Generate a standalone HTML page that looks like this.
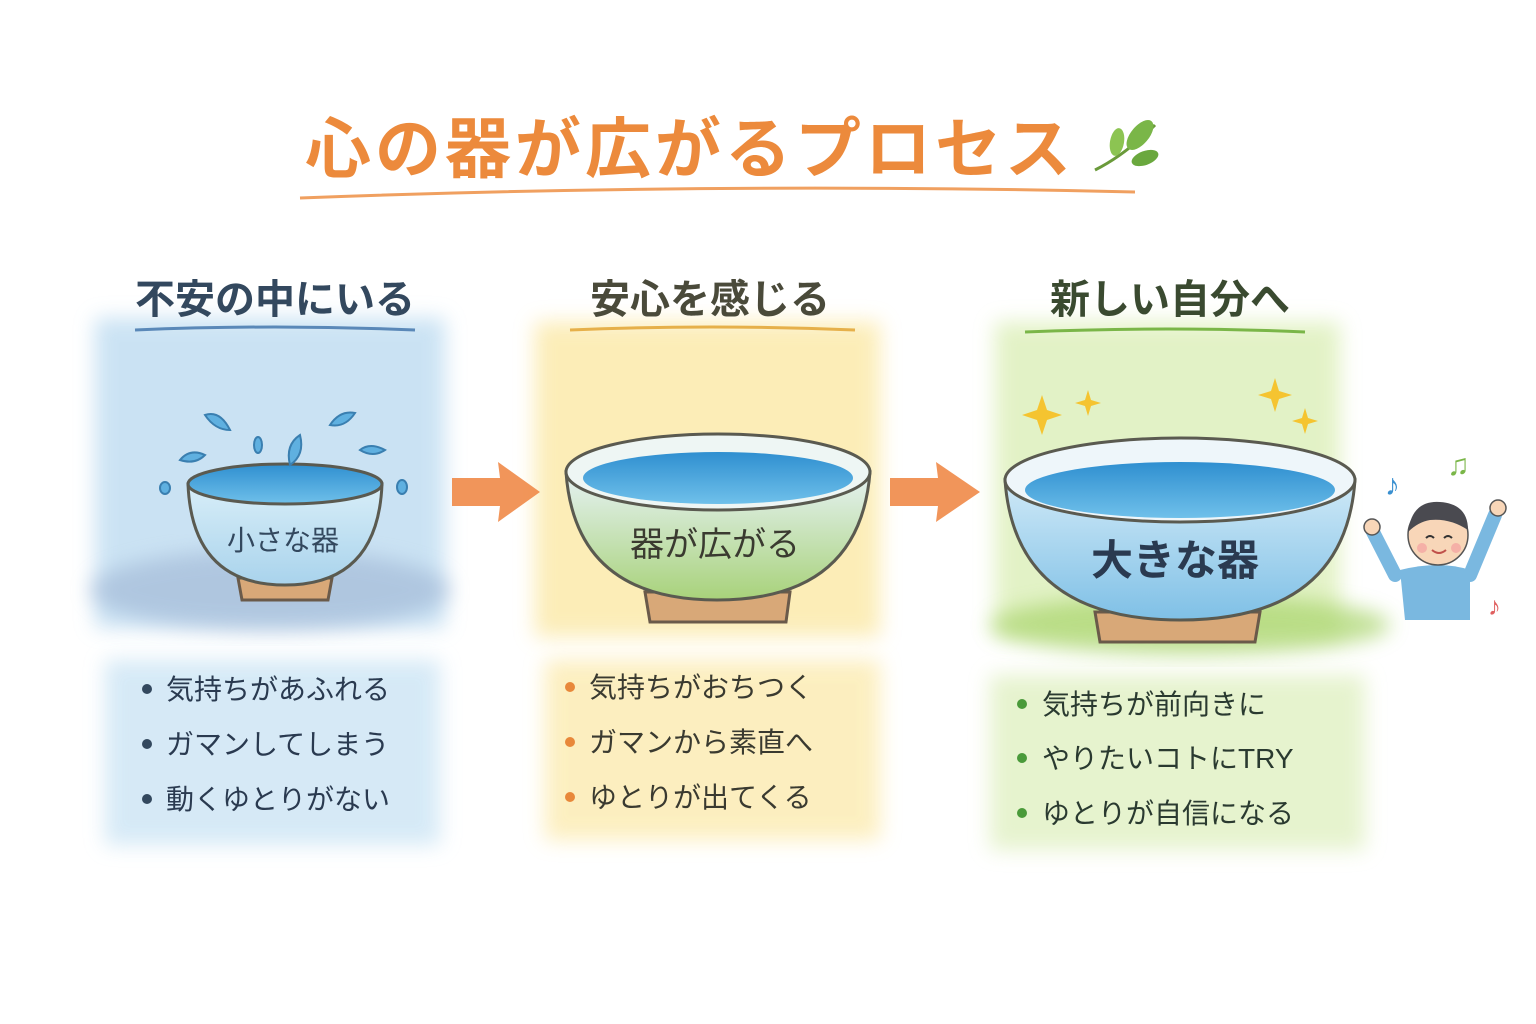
<!DOCTYPE html>
<html><head><meta charset="utf-8"><style>
html,body{margin:0;padding:0;background:#fff}
svg{display:block}
text{font-family:"Liberation Sans","Noto Sans CJK JP",sans-serif}
</style></head><body>
<svg width="1536" height="1024" viewBox="0 0 1536 1024" xmlns="http://www.w3.org/2000/svg">
<defs>
<filter id="blur" x="-20%" y="-20%" width="140%" height="140%"><feGaussianBlur stdDeviation="10"/></filter>
<linearGradient id="water" x1="0" y1="0" x2="0" y2="1"><stop offset="0" stop-color="#2f8fd0"/><stop offset="1" stop-color="#6fc0ea"/></linearGradient>
<linearGradient id="bodyB" x1="0" y1="0" x2="0" y2="1"><stop offset="0" stop-color="#d8eef8"/><stop offset="1" stop-color="#a9d3ec"/></linearGradient>
<linearGradient id="bodyY" x1="0" y1="0" x2="0" y2="1"><stop offset="0" stop-color="#e6f2f4"/><stop offset="1" stop-color="#a8d27a"/></linearGradient>
<linearGradient id="bodyG" x1="0" y1="0" x2="0" y2="1"><stop offset="0" stop-color="#cfe9f7"/><stop offset="1" stop-color="#7fc0e6"/></linearGradient>
</defs>

<text x="690" y="172" text-anchor="middle" font-size="66" font-weight="bold" fill="#ec8a3c" letter-spacing="4">心の器が広がるプロセス</text>
<path d="M300 198 Q720 182 1135 192" stroke="#f0a060" stroke-width="3" fill="none"/>
<g transform="translate(1095,170)">
<path d="M0 0 Q30 -15 60 -45" stroke="#6a9a3a" stroke-width="3" fill="none"/>
<ellipse cx="45" cy="-35" rx="18" ry="9" transform="rotate(-50 45 -35)" fill="#7ab648"/>
<ellipse cx="22" cy="-28" rx="14" ry="7" transform="rotate(-80 22 -28)" fill="#8cc452"/>
<ellipse cx="50" cy="-12" rx="14" ry="7" transform="rotate(-20 50 -12)" fill="#6aa83e"/>
</g>

<rect x="95" y="318" width="350" height="310" fill="#bedcf1" filter="url(#blur)" opacity="0.8"/>
<ellipse cx="270" cy="590" rx="180" ry="40" fill="#9ab0d0" filter="url(#blur)" opacity="0.55"/>
<rect x="535" y="322" width="345" height="315" fill="#fbe7a0" filter="url(#blur)" opacity="0.75"/>
<rect x="995" y="322" width="345" height="315" fill="#dcefb8" filter="url(#blur)" opacity="0.8"/>
<ellipse cx="1190" cy="625" rx="200" ry="30" fill="#a8d46a" filter="url(#blur)" opacity="0.7"/>

<rect x="105" y="660" width="335" height="185" fill="#cfe6f5" filter="url(#blur)" opacity="0.85"/>
<rect x="545" y="660" width="335" height="180" fill="#fcebb0" filter="url(#blur)" opacity="0.8"/>
<rect x="990" y="675" width="375" height="175" fill="#e2f1c6" filter="url(#blur)" opacity="0.85"/>

<text x="275" y="313" text-anchor="middle" font-size="40" font-weight="bold" fill="#33485e">不安の中にいる</text>
<path d="M135 330 Q275 324 415 330" stroke="#5a88b8" stroke-width="3" fill="none"/>
<text x="710" y="313" text-anchor="middle" font-size="40" font-weight="bold" fill="#4a4a3a">安心を感じる</text>
<path d="M570 330 Q710 324 855 330" stroke="#e6b04a" stroke-width="3" fill="none"/>
<text x="1170" y="313" text-anchor="middle" font-size="40" font-weight="bold" fill="#3a4a30">新しい自分へ</text>
<path d="M1025 332 Q1170 326 1305 332" stroke="#7ab648" stroke-width="3" fill="none"/>

<path d="M238 578 L332 578 L328 600 L242 600 Z" fill="#d8a878" stroke="#6a5a4a" stroke-width="3"/>
<path d="M188 484 Q192 585 285 585 Q378 585 382 484 Z" fill="url(#bodyB)" stroke="#5a5a50" stroke-width="3"/>
<ellipse cx="285" cy="484" rx="97" ry="20" fill="url(#water)" stroke="#5a5a50" stroke-width="3"/>
<text x="283" y="550" text-anchor="middle" font-size="28" fill="#33485e">小さな器</text>
<g fill="#5fb0e0" stroke="#3a7fb0" stroke-width="2">
<path d="M205 415 q15 -5 25 15 q-15 0 -25 -15z"/><path d="M180 460 q10 -12 25 -5 q-10 10 -25 5z"/>
<path d="M290 465 q-5 -20 10 -30 q5 20 -10 30z"/><path d="M330 425 q10 -15 25 -12 q-10 15 -25 12z"/>
<path d="M360 450 q10 -8 25 0 q-12 8 -25 0z"/><ellipse cx="258" cy="445" rx="4" ry="8"/><ellipse cx="165" cy="488" rx="5" ry="6"/><ellipse cx="402" cy="487" rx="5" ry="7"/>
</g>

<path d="M452 478 L500 478 L498 462 L540 492 L498 522 L500 506 L452 506 Z" fill="#f08a48" opacity="0.9"/>
<path d="M890 478 L938 478 L936 462 L980 492 L936 522 L938 506 L890 506 Z" fill="#f08a48" opacity="0.9"/>

<path d="M645 592 L790 592 L786 622 L650 622 Z" fill="#d8a878" stroke="#6a5a4a" stroke-width="3"/>
<path d="M566 472 Q575 600 717 600 Q860 600 870 472 Z" fill="url(#bodyY)" stroke="#5a5a50" stroke-width="3"/>
<ellipse cx="718" cy="472" rx="152" ry="38" fill="#eef6f4" stroke="#5a5a50" stroke-width="3"/>
<ellipse cx="718" cy="478" rx="135" ry="26" fill="url(#water)"/>
<text x="715" y="556" text-anchor="middle" font-size="34" fill="#3a3a30">器が広がる</text>

<path d="M1095 612 L1260 612 L1255 642 L1100 642 Z" fill="#d8a878" stroke="#6a5a4a" stroke-width="3"/>
<path d="M1005 480 Q1015 620 1180 620 Q1345 620 1355 480 Z" fill="url(#bodyG)" stroke="#5a5a50" stroke-width="3"/>
<ellipse cx="1180" cy="480" rx="175" ry="42" fill="#eef6fa" stroke="#5a5a50" stroke-width="3"/>
<ellipse cx="1180" cy="490" rx="155" ry="28" fill="url(#water)"/>
<text x="1175" y="575" text-anchor="middle" font-size="42" font-weight="bold" fill="#2a3a50">大きな器</text>
<g fill="#f5c430">
<path d="M1042 395 l5 15 15 5 -15 5 -5 15 -5 -15 -15 -5 15 -5z"/>
<path d="M1088 390 l3 10 10 3 -10 3 -3 10 -3 -10 -10 -3 10 -3z"/>
<path d="M1275 378 l4 13 13 4 -13 4 -4 13 -4 -13 -13 -4 13 -4z"/>
<path d="M1305 408 l3 10 10 3 -10 3 -3 10 -3 -10 -10 -3 10 -3z"/>
</g>

<g>
<path d="M1400 570 Q1440 560 1470 570 L1470 620 L1405 620 Z" fill="#7ab8e0"/>
<path d="M1395 575 L1372 530" stroke="#7ab8e0" stroke-width="14" stroke-linecap="round"/>
<path d="M1470 575 L1495 515" stroke="#7ab8e0" stroke-width="14" stroke-linecap="round"/>
<circle cx="1372" cy="527" r="8" fill="#f8d6b8" stroke="#555" stroke-width="1.5"/>
<circle cx="1498" cy="508" r="8" fill="#f8d6b8" stroke="#555" stroke-width="1.5"/>
<circle cx="1438" cy="535" r="30" fill="#f8d6b8" stroke="#555" stroke-width="1.5"/>
<path d="M1408 532 Q1412 500 1440 502 Q1468 504 1468 530 Q1450 518 1430 520 Q1418 522 1408 532z" fill="#4a4a50"/>
<path d="M1426 538 q4 -4 8 0 M1444 538 q4 -4 8 0" stroke="#333" stroke-width="2" fill="none"/>
<path d="M1432 550 q7 6 14 0" stroke="#c0504a" stroke-width="2" fill="none"/>
<circle cx="1422" cy="548" r="5" fill="#f4a0a0" opacity="0.7"/><circle cx="1456" cy="548" r="5" fill="#f4a0a0" opacity="0.7"/>
</g>
<text x="1385" y="495" font-size="30" fill="#3a90d0">♪</text>
<text x="1447" y="475" font-size="30" fill="#7ab648">♫</text>
<text x="1488" y="615" font-size="26" fill="#e06060">♪</text>

<g font-size="28" fill="#2a3a50">
<circle cx="147" cy="689" r="5" fill="#33485e"/><text x="166" y="699">気持ちがあふれる</text>
<circle cx="147" cy="744" r="5" fill="#33485e"/><text x="166" y="754">ガマンしてしまう</text>
<circle cx="147" cy="799" r="5" fill="#33485e"/><text x="166" y="809">動くゆとりがない</text>
</g>
<g font-size="28" fill="#3a3a30">
<circle cx="570" cy="687" r="5" fill="#e8883a"/><text x="589" y="697">気持ちがおちつく</text>
<circle cx="570" cy="742" r="5" fill="#e8883a"/><text x="589" y="752">ガマンから素直へ</text>
<circle cx="570" cy="797" r="5" fill="#e8883a"/><text x="589" y="807">ゆとりが出てくる</text>
</g>
<g font-size="28" fill="#2a3a30">
<circle cx="1022" cy="704" r="5" fill="#4a9a3a"/><text x="1042" y="714">気持ちが前向きに</text>
<circle cx="1022" cy="758" r="5" fill="#4a9a3a"/><text x="1042" y="768">やりたいコトにTRY</text>
<circle cx="1022" cy="813" r="5" fill="#4a9a3a"/><text x="1042" y="823">ゆとりが自信になる</text>
</g>
</svg>
</body></html>
